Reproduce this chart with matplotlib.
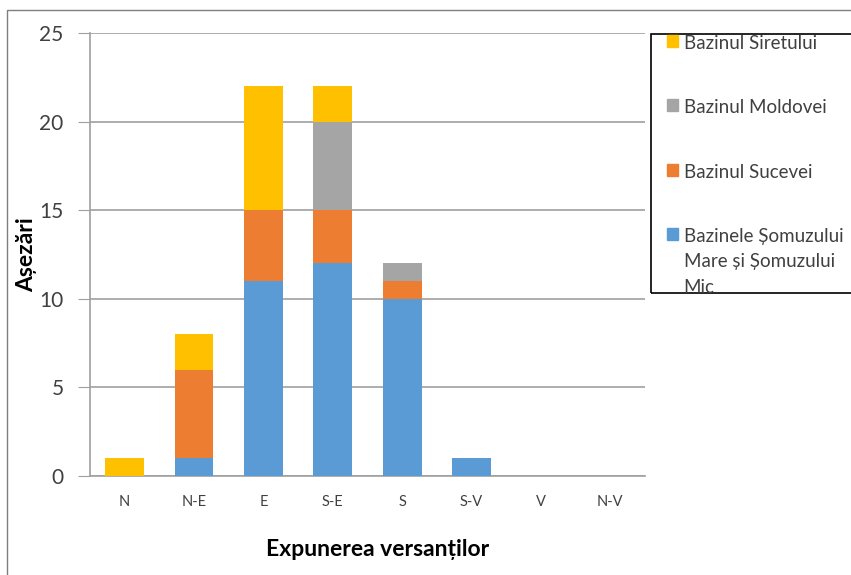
import matplotlib
matplotlib.use('Agg')
import matplotlib.pyplot as plt
import matplotlib.patches as mpatches
import numpy as np

plt.rcParams['font.family'] = ['Lato', 'DejaVu Sans']

# data
directii = ['N', 'N-E', 'E', 'S-E', 'S', 'S-V', 'V', 'N-V']
somuz = [0, 1, 11, 12, 10, 1, 0, 0]
suceava = [0, 5, 4, 3, 1, 0, 0, 0]
moldova = [0, 0, 0, 5, 1, 0, 0, 0]
siret = [1, 2, 7, 2, 0, 0, 0, 0]

serii = [
    ('Bazinele Șomuzului\nMare și Șomuzului\nMic', somuz, '#5B9BD5'),
    ('Bazinul Sucevei', suceava, '#ED7D31'),
    ('Bazinul Moldovei', moldova, '#A5A5A5'),
    ('Bazinul Siretului', siret, '#FFC000'),
]

W, H = 851, 575
fig = plt.figure(figsize=(W / 100, H / 100), dpi=100)
ax = fig.add_axes([90 / W, (H - 476) / H, 555 / W, (476 - 33) / H])

x = np.arange(len(directii))
baza = np.zeros(len(directii))
handles = []
for nume, vals, col in serii:
    vals = np.array(vals, dtype=float)
    ax.bar(x, vals, 0.56, bottom=baza, color=col, zorder=3)
    baza += vals
    handles.append(mpatches.Patch(color=col, label=nume))

ax.set_xlim(-0.5, len(directii) - 0.5)
ax.set_ylim(0, 25)
ax.set_yticks(np.arange(0, 26, 5))
ax.set_xticks(x)
ax.set_xticklabels(directii, fontsize=10.5, color='#404040')
ax.tick_params(axis='x', length=0, pad=14)
ax.tick_params(axis='y', length=9, color='#A0A0A0', labelsize=15, pad=10,
               labelcolor='#404040')
ax.grid(axis='y', color='#A0A0A0', linewidth=1.2, zorder=0)
for s in ['top', 'right']:
    ax.spines[s].set_visible(False)
for s in ['left', 'bottom']:
    ax.spines[s].set_color('#A0A0A0')
    ax.spines[s].set_linewidth(1.2)

fig.text(378 / W, 1 - 549 / H, 'Expunerea versanților', fontsize=16.5,
         fontweight='bold', ha='center', va='center')
fig.text(27 / W, 1 - 255 / H, 'Așezări', fontsize=16.5, fontweight='bold',
         rotation=90, ha='center', va='center')

# outer chart border (cropped at right and bottom)
fig.patches.append(mpatches.Rectangle((7 / W, -0.05), 1.0, 1 - 10 / H + 0.05,
                                      transform=fig.transFigure, fill=False,
                                      edgecolor='#7F7F7F', linewidth=1))
# legend frame (runs past the right edge)
fig.patches.append(mpatches.Rectangle((651 / W, 1 - 293 / H), 0.5, (293 - 34) / H,
                                      transform=fig.transFigure, fill=False,
                                      edgecolor='black', linewidth=1.2,
                                      zorder=5))

leg = fig.legend(handles=handles[::-1], loc='upper left',
                 bbox_to_anchor=(667 / W, 1 - 35 / H), frameon=False,
                 fontsize=13.5, labelspacing=2.53,
                 handlelength=0.6, handleheight=0.6, handletextpad=0.28,
                 borderpad=0, borderaxespad=0)
for col in leg._legend_handle_box.get_children():
    for item in col.get_children():
        item.align = 'top'
for t in leg.get_texts():
    t.set_color('#404040')
    t.set_linespacing(1.58)

plt.savefig('out.png', dpi=100)
plt.close()
